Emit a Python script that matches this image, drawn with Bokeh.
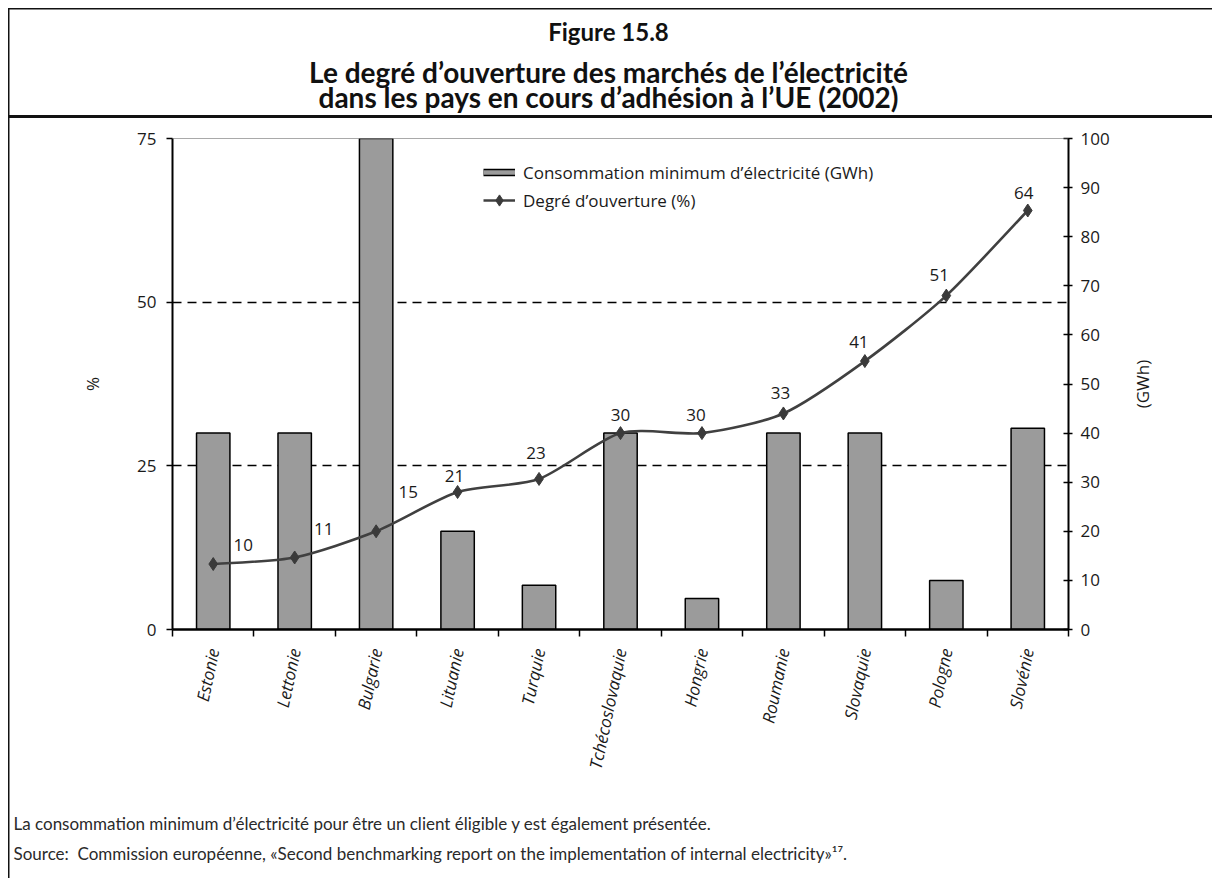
import math

from bokeh.core.properties import value
from bokeh.embed import file_html
from bokeh.layouts import column, row
from bokeh.models import (ColumnDataSource, FixedTicker, LabelSet, Legend,
                          LegendItem, LinearAxis, Range1d, Span)
from bokeh.plotting import figure
from bokeh.resources import INLINE

# ---- data -------------------------------------------------------------
countries = ["Estonie", "Lettonie", "Bulgarie", "Lituanie", "Turquie",
             "Tchécoslovaquie", "Hongrie", "Roumanie", "Slovaquie",
             "Pologne", "Slovénie"]
consommation_gwh = [40, 40, 100, 20, 9, 40, 6.3, 40, 40, 10, 41]
ouverture_pct = [10, 11, 15, 21, 23, 30, 30, 33, 41, 51, 64]
pct_ticks = [0, 25, 50, 75]
gwh_ticks = [0, 10, 20, 30, 40, 50, 60, 70, 80, 90, 100]

# pixel nudges for the value labels of the line (x right, y up)
label_dx = [30, 29, 32, -3, -3, 0, -6, -3, -6, -7, -4]
label_dy = [19, 28, 39, 16, 26, 18, 18, 20, 19, 21, 18]

# ---- page geometry ------------------------------------------------------
W, H = 1212, 878
HEAD_H = 120                 # heading band
NOTES_TOP = 800              # notes band starts here
STRIP_X = 1120               # right strip holding the GWh axis title
FL, FR, FT, FB = 172, 1068, 138, 629   # plot frame on the page

TICK_FONT = "Open Sans"
TITLE_FONT = "Lato"
INK = "#1a1a1a"
BAR_FILL = "#9b9b9b"
LINE_COLOR = "#404040"
SMOOTH = 1 / 8               # tangent scale of the smoothed line
RULE = "linear-gradient(#111111, #111111)"
LEFT_EDGE = {"background": f"{RULE} 8px 0px / 1.5px 100% no-repeat, #ffffff"}


def band(width, height, x0, y0):
    """A figure whose data space is the page's pixel space (y downward)."""
    f = figure(width=width, height=height, output_backend="svg", title=None,
               toolbar_location=None, x_axis_type=None, y_axis_type=None,
               x_range=Range1d(x0, x0 + width), y_range=Range1d(y0 + height, y0),
               min_border=0, background_fill_color=None, border_fill_color=None)
    f.outline_line_color = None
    return f


# ---- heading ------------------------------------------------------------
head = band(W, HEAD_H, 0, 0)
head.styles = {"background": (f"{RULE} 8px 8px / 1210px 1.5px no-repeat, "
                              f"{RULE} 8px 8px / 1.5px 200px no-repeat, "
                              f"{RULE} 8px 115px / 1210px 3px no-repeat, #ffffff")}
head.text(x=[608], y=[31], text=["Figure 15.8"], text_font=value(TITLE_FONT),
          text_font_style="bold", text_font_size="24px", text_align="center",
          text_baseline="middle", text_color="#111111")
head.text(x=[608, 608], y=[71, 96],
          text=["Le degré d’ouverture des marchés de l’électricité",
                "dans les pays en cours d’adhésion à l’UE (2002)"],
          text_font=value(TITLE_FONT), text_font_style="bold",
          text_font_size="28px", text_align="center",
          text_baseline="middle", text_color="#111111")

# ---- main chart ---------------------------------------------------------
n = len(countries)
xc = [i + 0.5 for i in range(n)]

p = figure(width=STRIP_X, height=NOTES_TOP - HEAD_H, output_backend="svg",
           toolbar_location=None, title=None,
           x_range=Range1d(0, n), y_range=Range1d(0, pct_ticks[-1]),
           min_border_left=FL, min_border_right=STRIP_X - FR,
           min_border_top=FT - HEAD_H, min_border_bottom=NOTES_TOP - FB,
           background_fill_color="white", border_fill_color=None)
p.outline_line_color = None
p.styles = dict(LEFT_EDGE)
p.extra_y_ranges = {"gwh": Range1d(gwh_ticks[0], gwh_ticks[-1])}

xa = p.xaxis[0]
xa.ticker = FixedTicker(ticks=xc, minor_ticks=list(range(n + 1)))
xa.major_label_overrides = {x: c for x, c in zip(xc, countries)}
xa.major_label_orientation = math.radians(78)
xa.major_tick_out = 0
xa.major_tick_in = 0
xa.minor_tick_out = 7
xa.minor_tick_in = 0
xa.minor_tick_line_color = "black"
xa.minor_tick_line_width = 1.5
xa.axis_line_width = 2.5
xa.axis_line_color = "black"
xa.major_label_standoff = 12
xa.major_label_text_font = TICK_FONT
xa.major_label_text_font_style = "italic"
xa.major_label_text_font_size = "17px"
xa.major_label_text_color = INK

ya = p.yaxis[0]
ya.ticker = FixedTicker(ticks=pct_ticks)
ya.major_tick_out = 6
ya.major_tick_in = 0
ya.minor_tick_line_color = None
ya.major_tick_line_width = 1.5
ya.axis_line_width = 2
ya.axis_line_color = "black"
ya.major_label_standoff = 10
ya.major_label_text_font = TICK_FONT
ya.major_label_text_font_size = "17px"
ya.major_label_text_color = INK
ya.axis_label = "%"
ya.axis_label_standoff = 30
ya.axis_label_text_font = TICK_FONT
ya.axis_label_text_font_style = "normal"
ya.axis_label_text_font_size = "17px"
ya.axis_label_text_color = INK

ra = LinearAxis(y_range_name="gwh", ticker=FixedTicker(ticks=gwh_ticks))
ra.major_tick_out = 4
ra.major_tick_in = 5
ra.minor_tick_line_color = None
ra.major_tick_line_width = 1.5
ra.axis_line_width = 2
ra.axis_line_color = "black"
ra.major_label_standoff = 8
ra.major_label_text_font = TICK_FONT
ra.major_label_text_font_size = "17px"
ra.major_label_text_color = INK
p.add_layout(ra, "right")

p.xgrid.visible = False
p.ygrid.ticker = FixedTicker(ticks=pct_ticks[1:-1])
p.ygrid.grid_line_color = "black"
p.ygrid.grid_line_width = 1.6
p.ygrid.grid_line_dash = "9 6"
p.add_layout(Span(location=pct_ticks[-1], dimension="width",
                  line_color="#555555", line_width=1))

# bars: minimum consumption, read on the right (GWh) axis
bars = p.vbar(x=xc, top=consommation_gwh, width=0.41, bottom=0,
              y_range_name="gwh", fill_color=BAR_FILL,
              line_color="black", line_width=1.5)

# smoothed line: opening degree, read on the left (%) axis
# cubic Bezier segments through the points (Catmull-Rom style tangents)
x0, y0, x1, y1, cx0, cy0, cx1, cy1 = [], [], [], [], [], [], [], []
for i in range(n - 1):
    xp, yp = xc[max(i - 1, 0)], ouverture_pct[max(i - 1, 0)]
    xa_, ya_ = xc[i], ouverture_pct[i]
    xb_, yb_ = xc[i + 1], ouverture_pct[i + 1]
    xn, yn = xc[min(i + 2, n - 1)], ouverture_pct[min(i + 2, n - 1)]
    x0.append(xa_); y0.append(ya_); x1.append(xb_); y1.append(yb_)
    cx0.append(xa_ + (xb_ - xp) * SMOOTH); cy0.append(ya_ + (yb_ - yp) * SMOOTH)
    cx1.append(xb_ - (xn - xa_) * SMOOTH); cy1.append(yb_ - (yn - ya_) * SMOOTH)
curve = p.bezier(x0=x0, y0=y0, x1=x1, y1=y1, cx0=cx0, cy0=cy0, cx1=cx1,
                 cy1=cy1, line_color=LINE_COLOR, line_width=2.6)
pts = p.scatter(x=xc, y=ouverture_pct, marker="diamond", size=13,
                fill_color="#3a3a3a", line_color="#3a3a3a")

src = ColumnDataSource(dict(x=xc, y=ouverture_pct,
                            t=[str(v) for v in ouverture_pct],
                            dx=label_dx, dy=label_dy))
p.add_layout(LabelSet(x="x", y="y", text="t", source=src,
                      x_offset="dx", y_offset="dy",
                      text_align="center", text_baseline="middle",
                      text_font=value(TICK_FONT), text_font_size="17px",
                      text_color=INK))

# flat bar swatch for the legend: a black stroke under a grey one
# (these two renderers carry no points, so they only show in the legend)
nan = float("nan")
swatch_edge = p.line(x=[nan, nan], y=[nan, nan], line_color="black", line_width=7.5)
swatch_fill = p.line(x=[nan, nan], y=[nan, nan], line_color=BAR_FILL, line_width=4.5)

legend = Legend(items=[
    LegendItem(label="Consommation minimum d’électricité (GWh)",
               renderers=[swatch_edge, swatch_fill]),
    LegendItem(label="Degré d’ouverture (%)", renderers=[curve, pts]),
], location=(311, 415), orientation="vertical",
    glyph_width=32, glyph_height=28, label_height=28, label_standoff=8,
    padding=0, margin=0, spacing=0,
    border_line_color=None, background_fill_alpha=0,
    label_text_font=TICK_FONT, label_text_font_size="17px",
    label_text_color=INK)
p.add_layout(legend, "center")

# ---- right strip: title of the GWh axis (reads bottom to top) -----------
strip = figure(width=W - STRIP_X, height=NOTES_TOP - HEAD_H, output_backend="svg",
               title=None, toolbar_location=None, x_axis_type=None,
               y_axis_type=None, x_range=Range1d(0, 1),
               y_range=Range1d(gwh_ticks[0], gwh_ticks[-1]),
               min_border_left=40, min_border_right=0,
               min_border_top=FT - HEAD_H, min_border_bottom=NOTES_TOP - FB,
               background_fill_color=None, border_fill_color=None)
strip.outline_line_color = None
gwh_title = LinearAxis(ticker=FixedTicker(ticks=[]), axis_label="(GWh)")
gwh_title.axis_line_color = None
gwh_title.major_tick_line_color = None
gwh_title.minor_tick_line_color = None
gwh_title.major_label_standoff = 0
gwh_title.major_tick_out = 0
gwh_title.major_tick_in = 0
gwh_title.axis_label_standoff = 7
gwh_title.axis_label_text_font = TICK_FONT
gwh_title.axis_label_text_font_style = "normal"
gwh_title.axis_label_text_font_size = "17px"
gwh_title.axis_label_text_color = INK
strip.add_layout(gwh_title, "left")

# ---- notes --------------------------------------------------------------
notes = band(W, H - NOTES_TOP, 0, NOTES_TOP)
notes.styles = dict(LEFT_EDGE)
notes.text(x=[13, 13], y=[823, 853],
           text=["La consommation minimum d’électricité pour être un client "
                 "éligible y est également présentée.",
                 "Source:\u00a0 Commission européenne, «Second benchmarking report "
                 "on the implementation of internal electricity»¹⁷."],
           text_font=value(TITLE_FONT), text_font_size="17px",
           text_align="left", text_baseline="middle", text_color="#2a2a2a")

page = column(head, row(p, strip, spacing=0), notes, spacing=0)
open("out.html", "w").write(file_html(page, INLINE))
